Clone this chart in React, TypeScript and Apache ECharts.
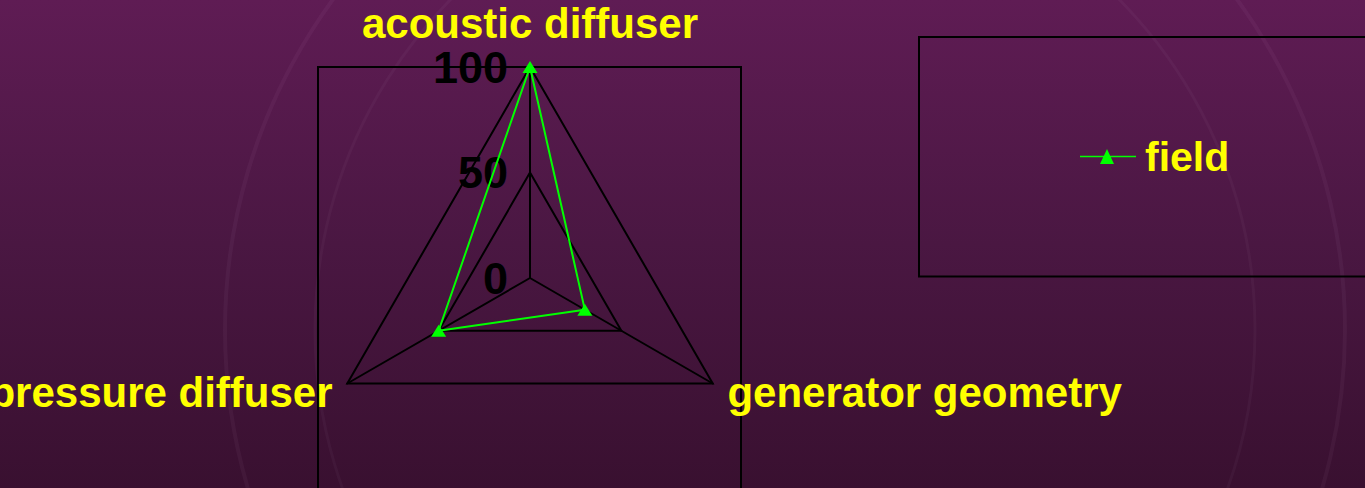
import React, { useEffect, useRef } from "react";
import * as echarts from "echarts";

const indicatorNames = ["acoustic diffuser", "pressure diffuser", "generator geometry"];
const fieldValues = [100, 50, 30];
const axisMin = 0;
const axisMax = 100;
const splitCount = 2;
const seriesName = "field";

const FONT = "'Liberation Sans', Arial, sans-serif";

export default function App() {
  const ref = useRef<HTMLDivElement>(null);

  useEffect(() => {
    if (!ref.current) return;
    const chart = echarts.init(ref.current, null, { renderer: "svg" });
    const option: any = {
      animation: false,
      backgroundColor: {
        type: "linear",
        x: 0,
        y: 0,
        x2: 0,
        y2: 1,
        colorStops: [
          { offset: 0, color: "#5f1c54" },
          { offset: 0.5, color: "#4a1742" },
          { offset: 1, color: "#391030" },
        ],
      },
      graphic: [
        {
          type: "circle",
          z: -10,
          silent: true,
          shape: { cx: 785, cy: 330, r: 560 },
          style: { fill: "none", stroke: "rgba(255,220,255,0.045)", lineWidth: 4 },
        },
        {
          type: "circle",
          z: -10,
          silent: true,
          shape: { cx: 785, cy: 330, r: 470 },
          style: { fill: "none", stroke: "rgba(255,220,255,0.035)", lineWidth: 3 },
        },
        {
          type: "rect",
          z: 0,
          silent: true,
          shape: { x: 318, y: 67, width: 423, height: 460 },
          style: { fill: "none", stroke: "#000", lineWidth: 2 },
        },
        {
          type: "rect",
          z: 0,
          silent: true,
          shape: { x: 919, y: 37, width: 470, height: 239.5 },
          style: { fill: "none", stroke: "#000", lineWidth: 2 },
        },
      ],
      legend: {
        data: [
          {
            name: seriesName,
            icon: "path://M0,6.7L56,6.7L56,8.3L0,8.3ZM20,15L27,0L34,15Z",
          },
        ],
        left: 1080,
        top: 136,
        padding: 0,
        itemWidth: 56,
        itemHeight: 15,
        itemStyle: { color: "#00ff00" },
        textStyle: {
          color: "#ffff00",
          fontSize: 41,
          fontWeight: "bold",
          fontFamily: FONT,
          padding: [0, 0, 0, 4],
        },
      },
      radar: {
        center: [530, 278],
        radius: 211,
        startAngle: 90,
        shape: "polygon",
        splitNumber: splitCount,
        nameGap: 17,
        indicator: indicatorNames.map((name, i) => ({
          name,
          min: axisMin,
          max: axisMax,
          ...(i === 0 ? { axisLabel: { show: true } } : {}),
        })),
        axisName: {
          color: "#ffff00",
          fontSize: 42,
          fontWeight: "bold",
          fontFamily: FONT,
          padding: [0, 0, -2, 0],
        },
        axisLine: { lineStyle: { color: "#000", width: 2 } },
        splitLine: { lineStyle: { color: "#000", width: 2 } },
        splitArea: { show: false },
        axisTick: { show: false },
        axisLabel: {
          show: false,
          color: "#000",
          fontSize: 45,
          fontWeight: "bold",
          fontFamily: FONT,
          margin: 22,
        },
      },
      series: [
        {
          type: "radar",
          name: seriesName,
          symbol: "triangle",
          symbolSize: [15, 12],
          lineStyle: { color: "#00ff00", width: 2 },
          itemStyle: { color: "#00ff00" },
          data: [{ name: seriesName, value: fieldValues }],
        },
      ],
    };
    chart.setOption(option);
    return () => chart.dispose();
  }, []);

  return (
    <div
      ref={ref}
      style={{ position: "absolute", left: 0, top: 0, width: 1365, height: 488 }}
    />
  );
}
